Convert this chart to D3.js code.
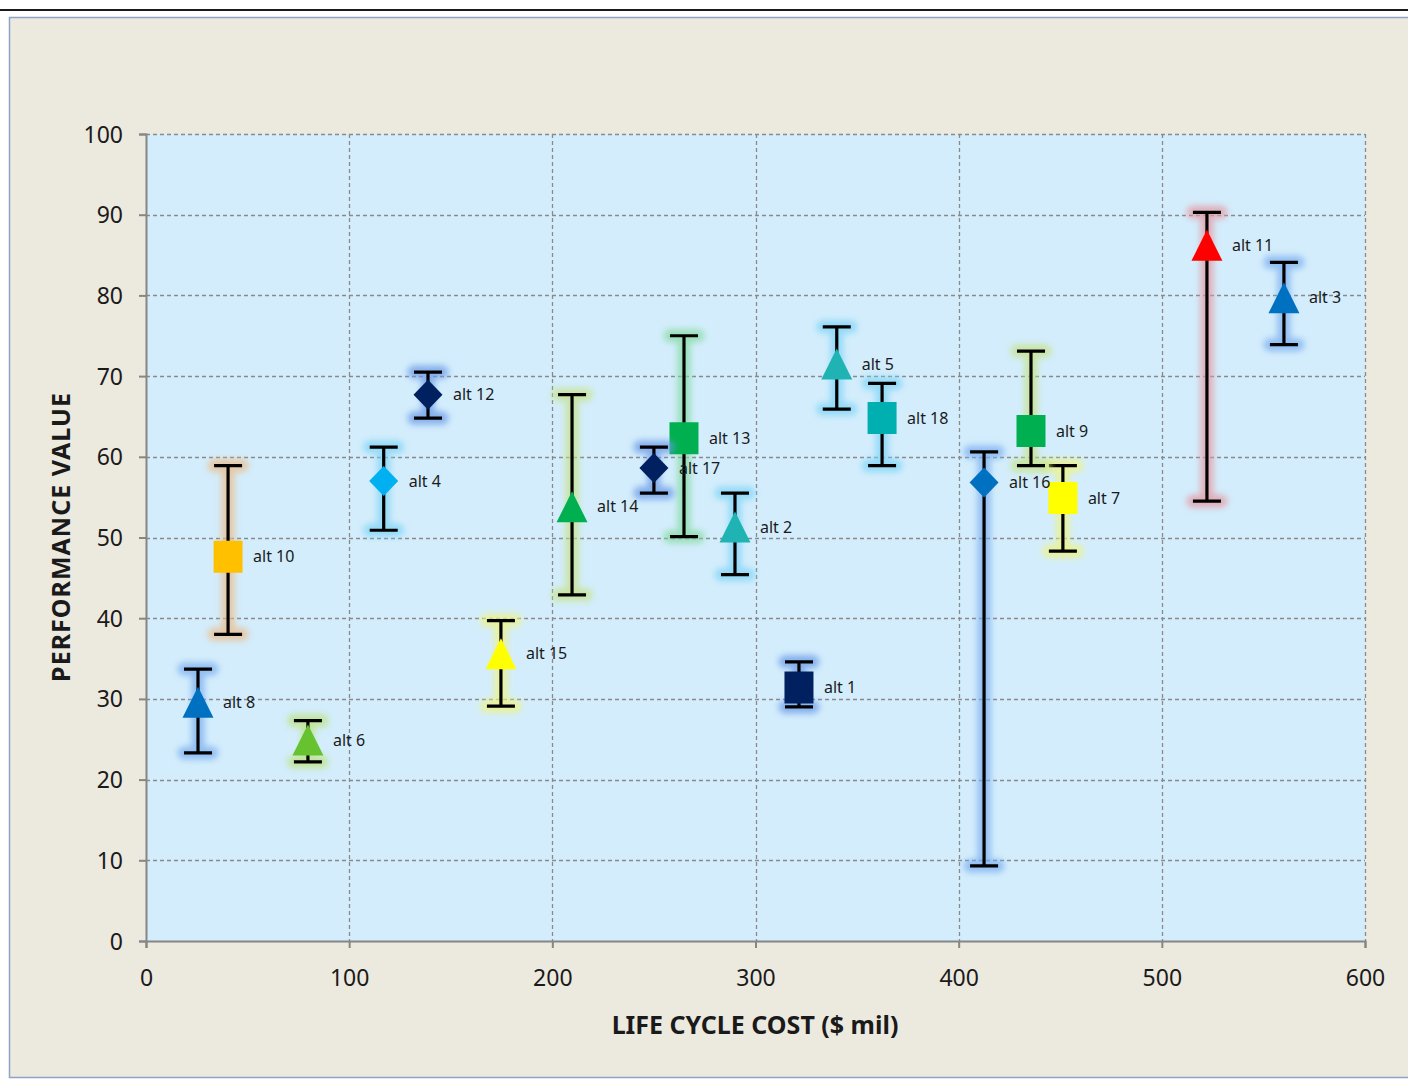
<!DOCTYPE html>
<html>
<head>
<meta charset="utf-8">
<script src="https://cdn.jsdelivr.net/npm/d3@7"></script>
<style>
  html, body { margin: 0; padding: 0; background: #ffffff; }
  svg { display: block; }
</style>
</head>
<body>
<div id="chart"></div>
<script>
// Données (coût, performance, bornes des barres d'erreur)
const alts      = ["alt 1","alt 2","alt 3","alt 4","alt 5","alt 6","alt 7","alt 8","alt 9",
                   "alt 10","alt 11","alt 12","alt 13","alt 14","alt 15","alt 16","alt 17","alt 18"];
const cost      = [321.4, 289.9, 560.1, 117.0, 340.0,  79.7, 451.3,  25.6, 435.6,
                    40.4, 522.2, 138.8, 264.8, 209.7, 174.7, 412.5, 250.0, 362.3];
const perf      = [ 31.4,  51.3,  79.7,  57.0,  71.5,  24.9,  54.9,  29.6,  63.2,
                    47.6,  86.2,  67.7,  62.3,  53.8,  35.6,  56.8,  58.6,  64.8];
const perfHigh  = [ 34.6,  55.5,  84.1,  61.2,  76.1,  27.3,  58.9,  33.7,  73.1,
                    58.9,  90.3,  70.5,  75.0,  67.7,  39.7,  60.6,  61.2,  69.1];
const perfLow   = [ 29.0,  45.4,  73.9,  50.9,  65.9,  22.2,  48.3,  23.3,  58.9,
                    38.0,  54.5,  64.8,  50.1,  42.9,  29.1,   9.3,  55.5,  58.9];
const xTicks = [0, 100, 200, 300, 400, 500, 600];
const yTicks = [0, 10, 20, 30, 40, 50, 60, 70, 80, 90, 100];

// Style des marqueurs (forme, couleur, halo)
const style = {
  "alt 1":  { shape: "square",   fill: "#002060", glow: "#6a9ae6" },
  "alt 2":  { shape: "triangle", fill: "#1fb3b3", glow: "#7fd4f6" },
  "alt 3":  { shape: "triangle", fill: "#0070c0", glow: "#7aaef0" },
  "alt 4":  { shape: "diamond",  fill: "#00b0f0", glow: "#7fd4f6" },
  "alt 5":  { shape: "triangle", fill: "#1fb3b3", glow: "#7fd4f6" },
  "alt 6":  { shape: "triangle", fill: "#66c22e", glow: "#bce27a" },
  "alt 7":  { shape: "square",   fill: "#ffff00", glow: "#f0f47a" },
  "alt 8":  { shape: "triangle", fill: "#0070c0", glow: "#7aaef0" },
  "alt 9":  { shape: "square",   fill: "#00b050", glow: "#c6e286" },
  "alt 10": { shape: "square",   fill: "#ffc000", glow: "#ecbc88" },
  "alt 11": { shape: "triangle", fill: "#ff0000", glow: "#e49aa2" },
  "alt 12": { shape: "diamond",  fill: "#002060", glow: "#6a9ae6" },
  "alt 13": { shape: "square",   fill: "#00b050", glow: "#86dba2" },
  "alt 14": { shape: "triangle", fill: "#00b050", glow: "#c6e286" },
  "alt 15": { shape: "triangle", fill: "#ffff00", glow: "#f0f47a" },
  "alt 16": { shape: "diamond",  fill: "#0070c0", glow: "#7aaef0" },
  "alt 17": { shape: "diamond",  fill: "#002060", glow: "#6a9ae6" },
  "alt 18": { shape: "square",   fill: "#00b0b0", glow: "#7fd4f6" }
};

const data = alts.map((a, i) => ({
  name: a, x: cost[i], y: perf[i], hi: perfHigh[i], lo: perfLow[i], ...style[a]
}));

const W = 1408, H = 1081;
const margin = { top: 134, right: 43, bottom: 140, left: 146 };
const width = W - margin.left - margin.right;
const height = H - margin.top - margin.bottom;

const svg = d3.select("#chart").append("svg")
  .attr("width", W).attr("height", H);

// Filtre de halo (effet "glow" d'Excel)
const defs = svg.append("defs");
defs.append("filter").attr("id", "glow")
  .attr("x", "-50%").attr("y", "-50%").attr("width", "200%").attr("height", "200%")
  .append("feGaussianBlur").attr("stdDeviation", 3);

// Cadre extérieur
svg.append("line")
  .attr("x1", 0).attr("x2", W).attr("y1", 10).attr("y2", 10)
  .attr("stroke", "#1a1a1a").attr("stroke-width", 2);
svg.append("rect")
  .attr("x", 9.5).attr("y", 17.5).attr("width", W + 20).attr("height", 1060)
  .attr("fill", "#ece9df").attr("stroke", "#8ea4c4").attr("stroke-width", 1.5);

const g = svg.append("g").attr("transform", `translate(${margin.left},${margin.top})`);

const x = d3.scaleLinear().domain([0, 600]).range([0, width]);
const y = d3.scaleLinear().domain([0, 100]).range([height, 0]);

// Zone de tracé
g.append("rect").attr("width", width).attr("height", height).attr("fill", "#d3edfc");

// Grille pointillée
g.append("g").selectAll("line").data(yTicks.filter(d => d > 0)).join("line")
  .attr("x1", 0).attr("x2", width)
  .attr("y1", d => Math.round(y(d)) + 0.5).attr("y2", d => Math.round(y(d)) + 0.5)
  .attr("stroke", "#8a8a8a").attr("stroke-width", 1.3).attr("stroke-dasharray", "4,3");
g.append("g").selectAll("line").data(xTicks.filter(d => d > 0)).join("line")
  .attr("y1", 0).attr("y2", height)
  .attr("x1", d => Math.round(x(d)) + 0.5).attr("x2", d => Math.round(x(d)) + 0.5)
  .attr("stroke", "#8a8a8a").attr("stroke-width", 1.3).attr("stroke-dasharray", "4,3");

// Axes
const tickFont = "'Noto Sans', 'Open Sans', sans-serif";
const xAxis = g.append("g").attr("transform", `translate(0,${height})`)
  .call(d3.axisBottom(x).tickValues(xTicks).tickSize(7).tickPadding(22));
const yAxis = g.append("g")
  .call(d3.axisLeft(y).tickValues(yTicks).tickSize(7).tickPadding(16));
[xAxis, yAxis].forEach(ax => {
  ax.select(".domain").attr("stroke", "#868686").attr("stroke-width", 2);
  ax.selectAll(".tick line").attr("stroke", "#868686").attr("stroke-width", 2);
  ax.selectAll("text").attr("fill", "#1a1a1a")
    .style("font-family", tickFont).style("font-size", "23px");
});
yAxis.selectAll("text").attr("dy", "0.35em");

// Titres des axes
svg.append("text")
  .attr("x", 755).attr("y", 1034)
  .attr("text-anchor", "middle")
  .style("font-family", tickFont).style("font-weight", "bold").style("font-size", "25px")
  .attr("fill", "#1a1a1a")
  .text("LIFE CYCLE COST ($ mil)");
svg.append("text")
  .attr("transform", "translate(70,537) rotate(-90)")
  .attr("text-anchor", "middle")
  .style("font-family", tickFont).style("font-weight", "bold").style("font-size", "25px")
  .style("letter-spacing", "1px")
  .attr("fill", "#1a1a1a")
  .text("PERFORMANCE VALUE");

// Formes des marqueurs
const shapes = {
  square:   { draw(ctx, s) { const w = 14.5, h = 16; ctx.rect(-w, -h, 2 * w, 2 * h); } },
  triangle: { draw(ctx, s) { ctx.moveTo(0, -15.5); ctx.lineTo(15.5, 15.5); ctx.lineTo(-15.5, 15.5); ctx.closePath(); } },
  diamond:  { draw(ctx, s) { ctx.moveTo(0, -15); ctx.lineTo(14.5, 0); ctx.lineTo(0, 15); ctx.lineTo(-14.5, 0); ctx.closePath(); } }
};

const cap = 14;
const barPath = d => {
  const cx = x(d.x), yh = y(d.hi), yl = y(d.lo);
  return `M${cx - cap},${yh}H${cx + cap}M${cx},${yh}V${yl}M${cx - cap},${yl}H${cx + cap}`;
};

const pts = g.append("g").selectAll("g").data(data).join("g");

// Halo des barres d'erreur
pts.append("path")
  .attr("d", barPath)
  .attr("fill", "none")
  .attr("stroke", d => d.glow)
  .attr("stroke-width", 13)
  .attr("stroke-linecap", "round")
  .attr("opacity", 0.75)
  .attr("filter", "url(#glow)");

// Barres d'erreur
pts.append("path")
  .attr("d", barPath)
  .attr("fill", "none")
  .attr("stroke", "#000")
  .attr("stroke-width", 3.2);

// Marqueurs
pts.append("path")
  .attr("transform", d => `translate(${x(d.x)},${y(d.y)})`)
  .attr("d", d => d3.symbol().type(shapes[d.shape])())
  .attr("fill", d => d.fill);

// Étiquettes
g.append("g").selectAll("text").data(data).join("text")
  .attr("x", d => x(d.x) + 25)
  .attr("y", d => y(d.y))
  .attr("dy", "0.35em")
  .style("font-family", tickFont).style("font-size", "16px")
  .attr("fill", "#1a1a1a")
  .text(d => d.name);
</script>
</body>
</html>
